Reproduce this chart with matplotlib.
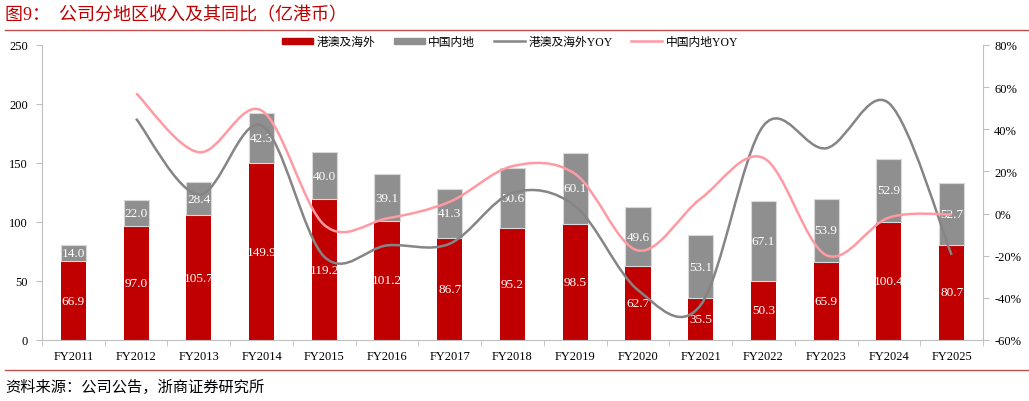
import numpy as np
import matplotlib
matplotlib.use("Agg")
import matplotlib.pyplot as plt
from matplotlib.path import Path
from matplotlib.patches import PathPatch, Patch
from matplotlib.lines import Line2D

plt.rcParams['font.family'] = ['Liberation Serif', 'Noto Sans CJK SC']

years = ['FY2011', 'FY2012', 'FY2013', 'FY2014', 'FY2015', 'FY2016', 'FY2017', 'FY2018',
         'FY2019', 'FY2020', 'FY2021', 'FY2022', 'FY2023', 'FY2024', 'FY2025']
hk_overseas = [66.9, 97.0, 105.7, 149.9, 119.2, 101.2, 86.7, 95.2, 98.5, 62.7, 35.5, 50.3, 65.9, 100.4, 80.7]
mainland = [14.0, 22.0, 28.4, 42.3, 40.0, 39.1, 41.3, 50.6, 60.1, 49.6, 53.1, 67.1, 53.9, 52.9, 52.7]
# YoY in %, from FY2012 on
hk_yoy = [45.0, 9.0, 41.8, -20.5, -15.1, -14.3, 9.8, 3.5, -36.3, -43.4, 41.7, 31.0, 52.4, -19.6]
mainland_yoy = [57.1, 29.1, 48.9, -5.4, -2.3, 5.6, 22.5, 18.8, -17.5, 7.1, 26.4, -19.7, -1.9, -0.4]

RED = '#C00000'
GRAY = '#8F8F8F'
LINE_GRAY = '#858585'
PINK = '#FF9AA2'
SPINE = '#BFBFBF'

fig = plt.figure(figsize=(10.29, 4.02), dpi=100)
ax = fig.add_axes([42 / 1029, 1 - 341 / 402, 941 / 1029, 295 / 402])
x = np.arange(len(years))

ax.bar(x, hk_overseas, width=0.4, color=RED, zorder=2)
ax.bar(x, mainland, width=0.4, bottom=hk_overseas, color=GRAY, edgecolor='#D9D9D9',
       linewidth=0.8, zorder=2)
for i in range(len(years)):
    ax.text(x[i], hk_overseas[i] / 2, f'{hk_overseas[i]:.1f}', ha='center', va='center',
            color='white', fontsize=9.5, zorder=3)
    ax.text(x[i], hk_overseas[i] + mainland[i] / 2, f'{mainland[i]:.1f}', ha='center',
            va='center', color='white', fontsize=9.5, zorder=3)

ax.set_xlim(-0.5, len(years) - 0.5)
ax.set_ylim(0, 250)
ax.set_yticks(np.arange(0, 251, 50))
ax.set_xticks(x)
ax.set_xticklabels(years)
ax.set_xticks(np.arange(-0.5, len(years), 1), minor=True)
ax.tick_params(axis='x', which='major', length=0, pad=7, labelsize=9)
ax.tick_params(axis='x', which='minor', length=4, color=SPINE, direction='out')
ax.tick_params(axis='y', length=4, color=SPINE, labelsize=9, pad=6)
for s in ['top', 'right']:
    ax.spines[s].set_visible(False)
for s in ['left', 'bottom']:
    ax.spines[s].set_color(SPINE)

ax2 = ax.twinx()
ax2.set_ylim(-60, 80)
ax2.set_yticks(np.arange(-60, 81, 20))
ax2.set_yticklabels([f'{v}%' for v in range(-60, 81, 20)])
ax2.tick_params(axis='y', length=4, color=SPINE, labelsize=9, pad=4)
for s in ['top', 'left', 'bottom']:
    ax2.spines[s].set_visible(False)
ax2.spines['right'].set_color(SPINE)


def smooth_path(xs, ys):
    pts = np.column_stack([xs, ys]).astype(float)
    n = len(pts)
    verts = [pts[0]]
    codes = [Path.MOVETO]
    for i in range(n - 1):
        p0 = pts[i - 1] if i > 0 else pts[i]
        p1 = pts[i]
        p2 = pts[i + 1]
        p3 = pts[i + 2] if i + 2 < n else pts[i + 1]
        c1 = p1 + (p2 - p0) / 6
        c2 = p2 - (p3 - p1) / 6
        verts += [c1, c2, p2]
        codes += [Path.CURVE4] * 3
    return Path(verts, codes)


ax2.add_patch(PathPatch(smooth_path(x[1:], hk_yoy), fill=False, edgecolor=LINE_GRAY,
                        linewidth=1.8, zorder=4))
ax2.add_patch(PathPatch(smooth_path(x[1:], mainland_yoy), fill=False, edgecolor=PINK,
                        linewidth=1.8, zorder=4))

handles = [Patch(color=RED), Patch(color=GRAY),
           Line2D([], [], color=LINE_GRAY, lw=1.8), Line2D([], [], color=PINK, lw=1.8)]
labels = ['港澳及海外', '中国内地', '港澳及海外YOY', '中国内地YOY']
fig.legend(handles, labels, loc='center', bbox_to_anchor=(510 / 1029, 1 - 43 / 402),
           ncol=4, frameon=False, fontsize=8.5, handlelength=2.6, handleheight=0.45,
           handletextpad=0.3, columnspacing=1.6)

fig.text(5 / 1029, 1 - 16 / 402, '图9：  公司分地区收入及其同比（亿港币）', color=RED,
         fontsize=13, va='center', ha='left')
fig.add_artist(Line2D([5 / 1029, 1], [1 - 31 / 402, 1 - 31 / 402], color='#C0504D', lw=1))
fig.add_artist(Line2D([5 / 1029, 1], [1 - 371 / 402, 1 - 371 / 402], color='#C0504D', lw=1))
fig.text(5 / 1029, 1 - 387 / 402, '资料来源：公司公告，浙商证券研究所', color='black',
         fontsize=11, va='center', ha='left')

fig.savefig('out.png', dpi=100)
